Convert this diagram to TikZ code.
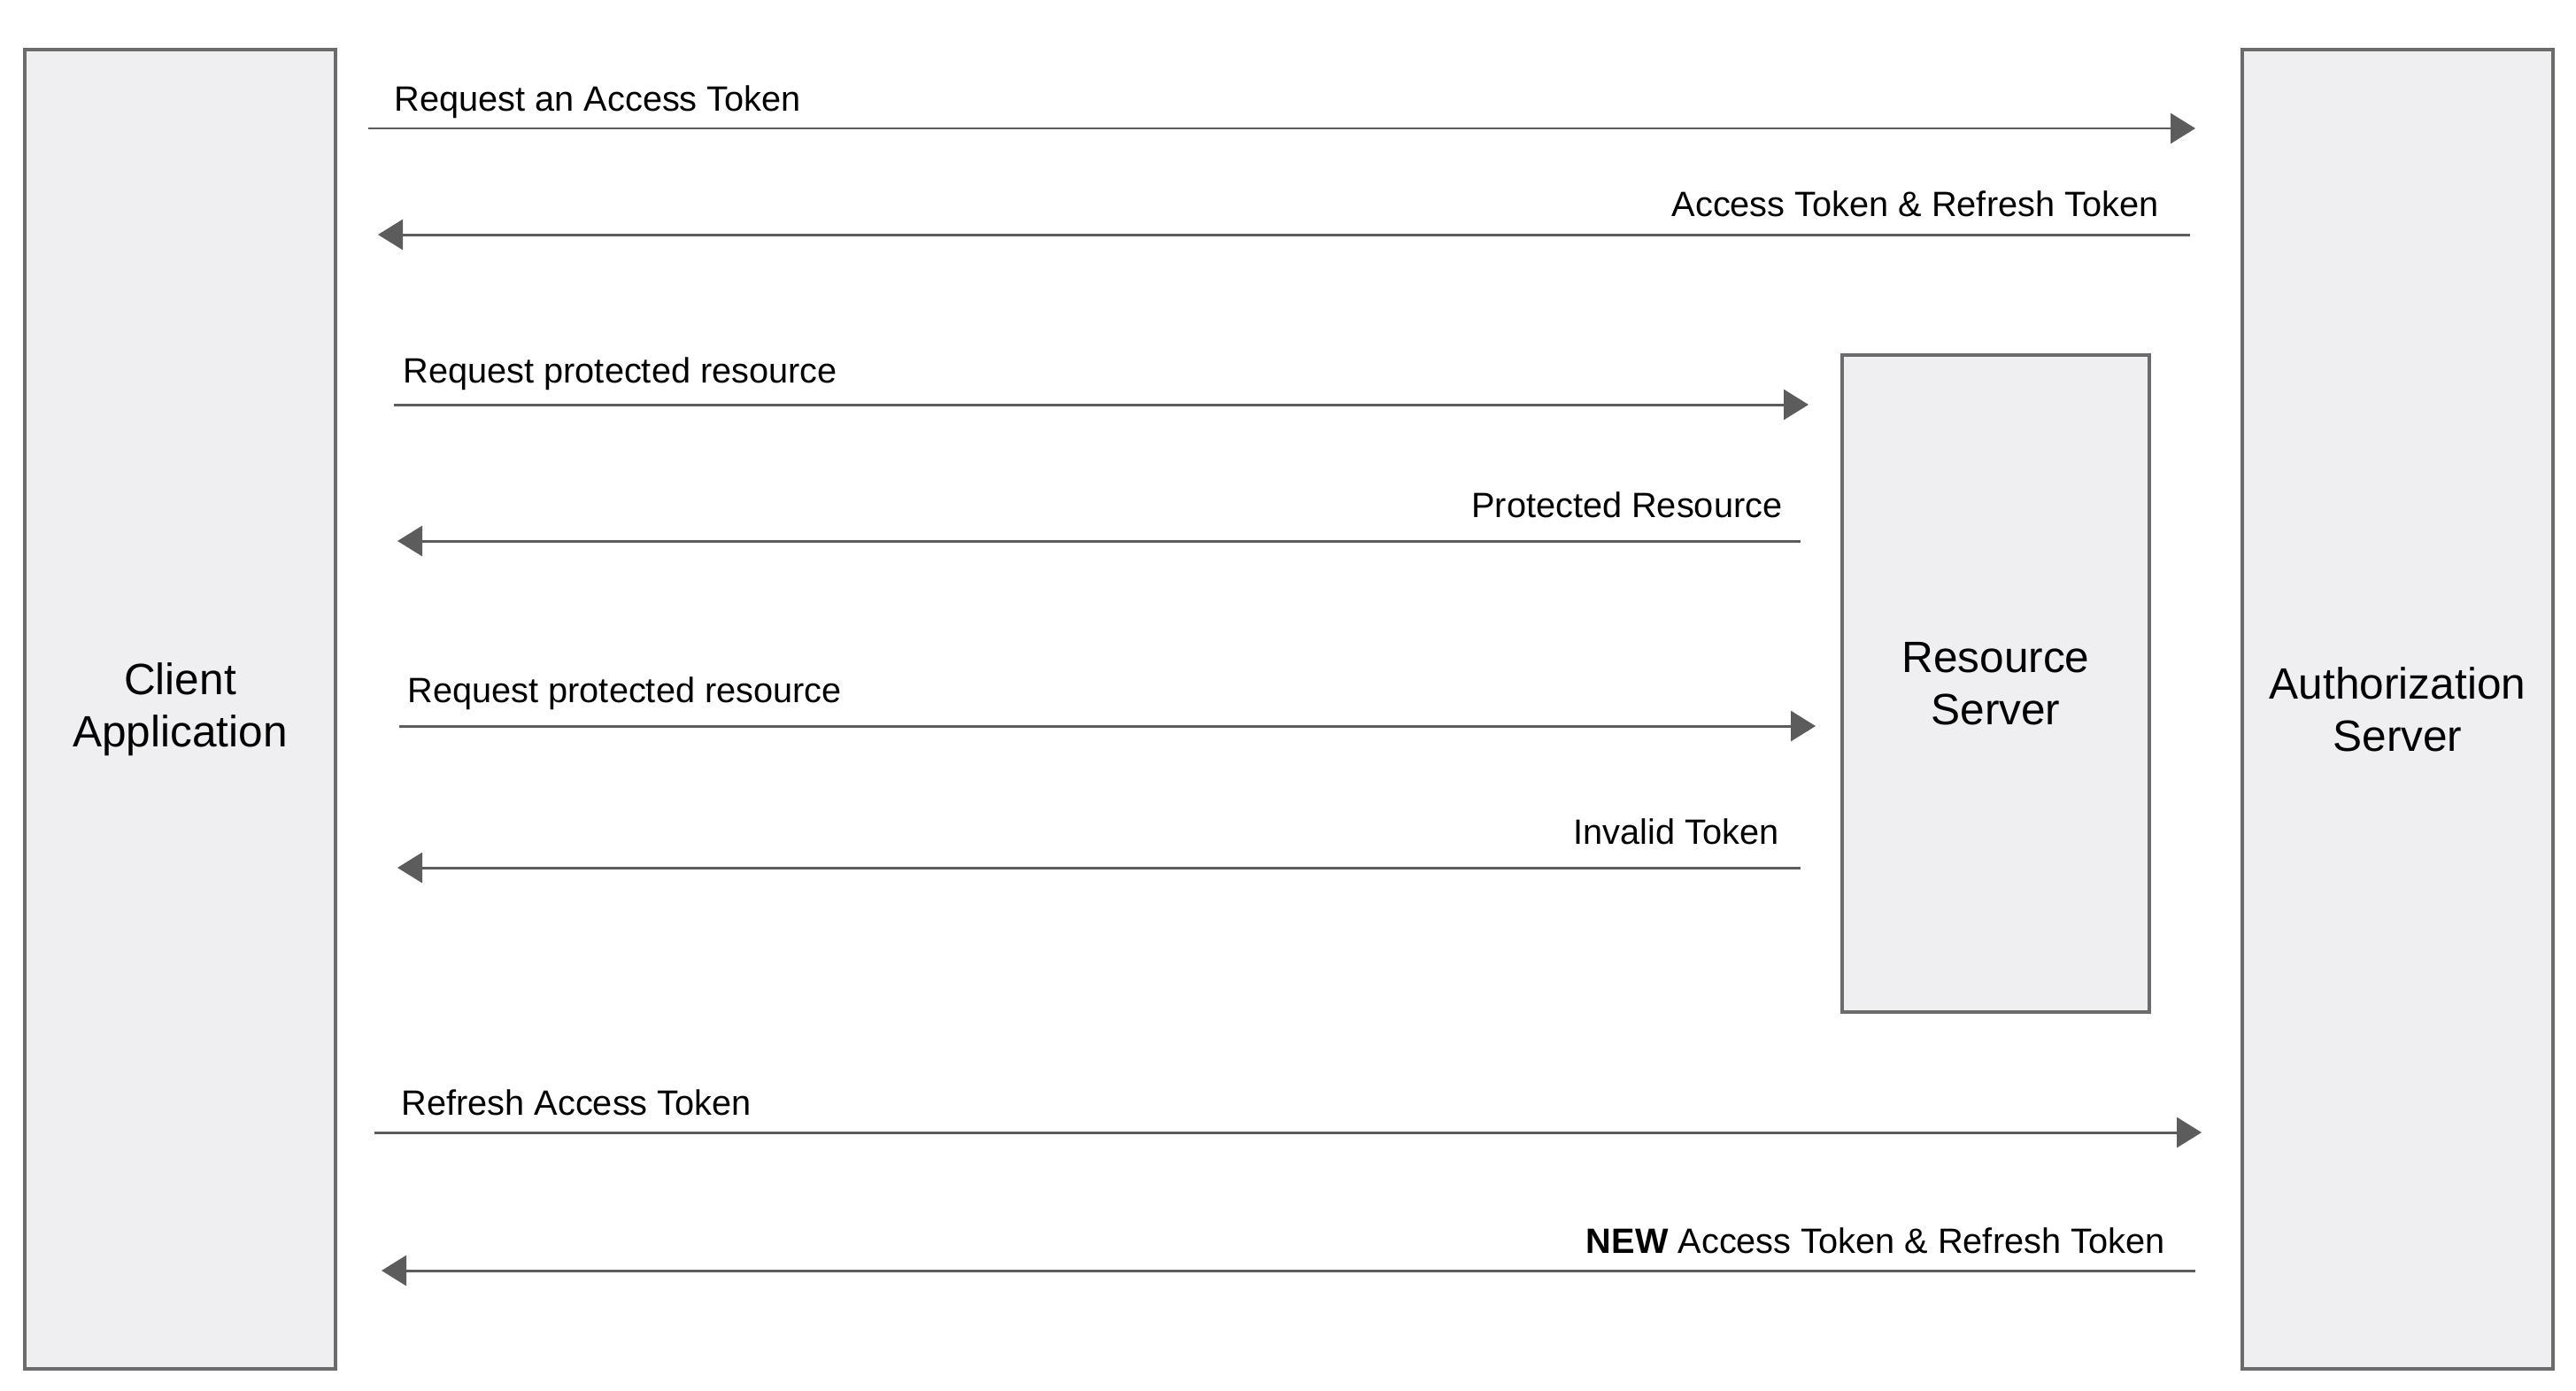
\documentclass[tikz,border=0pt]{standalone}
\usepackage{fontspec}
\setmainfont{Liberation Sans}
\usepackage{xcolor}
\definecolor{boxFill}{HTML}{EFEEF0}
\definecolor{boxEdge}{HTML}{6B6B6B}
\definecolor{msgGray}{HTML}{5C5C5C}
\usetikzlibrary{arrows.meta,positioning,calc}

\tikzset{
  party/.style={draw=boxEdge, fill=boxFill, line width=0.9pt, inner sep=0pt,
    align=center, font=\fontsize{14.1}{16.8}\selectfont},
  msg/.style={draw=msgGray, line width=0.85pt,
    -{Triangle[length=0.28cm, width=0.34cm]}},
  msglabel/.style={inner sep=0pt, font=\fontsize{11.3}{13.5}\selectfont},
}

\begin{document}
\begin{tikzpicture}

    % --- canvas ---
    \useasboundingbox[fill=white] (0,0) rectangle (29.10,-15.70);

    % --- parties ---
    \node[party, minimum width=3.51cm, minimum height=14.90cm] (client) at (2.035,-8.01) {Client\\Application};
    \node[party, minimum width=3.51cm, minimum height=14.90cm] (auth) at (27.085,-8.01) {Authorization\\Server};
    \node[party, minimum width=3.47cm, minimum height=7.42cm] (resource) at (22.545,-7.72) {Resource\\Server};

    % --- message end points ---
    \coordinate (m1s) at (4.16,-1.45);   \coordinate (m1e) at (24.80,-1.45);
    \coordinate (m2s) at (24.74,-2.65);  \coordinate (m2e) at (4.27,-2.65);
    \coordinate (m3s) at (4.45,-4.57);   \coordinate (m3e) at (20.43,-4.57);
    \coordinate (m4s) at (20.34,-6.11);  \coordinate (m4e) at (4.49,-6.11);
    \coordinate (m5s) at (4.51,-8.20);   \coordinate (m5e) at (20.51,-8.20);
    \coordinate (m6s) at (20.34,-9.80);  \coordinate (m6e) at (4.49,-9.80);
    \coordinate (m7s) at (4.23,-12.79);  \coordinate (m7e) at (24.87,-12.79);
    \coordinate (m8s) at (24.80,-14.35); \coordinate (m8e) at (4.31,-14.35);

    % --- messages ---
    \draw[msg] (m1s) -- (m1e);
    \node[msglabel, anchor=base west] (t1) at (4.45,-1.25) {Request an Access Token};

    \draw[msg] (m2s) -- (m2e);
    \node[msglabel, anchor=base east] (t2) at (24.39,-2.44) {Access Token \& Refresh Token};

    \draw[msg] (m3s) -- (m3e);
    \node[msglabel, anchor=base west] (t3) at (4.55,-4.32) {Request protected resource};

    \draw[msg] (m4s) -- (m4e);
    \node[msglabel, anchor=base east] (t4) at (20.14,-5.84) {Protected Resource};

    \draw[msg] (m5s) -- (m5e);
    \node[msglabel, anchor=base west] (t5) at (4.60,-7.93) {Request protected resource};

    \draw[msg] (m6s) -- (m6e);
    \node[msglabel, anchor=base east] (t6) at (20.10,-9.53) {Invalid Token};

    \draw[msg] (m7s) -- (m7e);
    \node[msglabel, anchor=base west] (t7) at (4.53,-12.59) {Refresh Access Token};

    \draw[msg] (m8s) -- (m8e);
    \node[msglabel, anchor=base east] (t8) at (24.46,-14.15) {\textbf{NEW} Access Token \& Refresh Token};

\end{tikzpicture}
\end{document}
